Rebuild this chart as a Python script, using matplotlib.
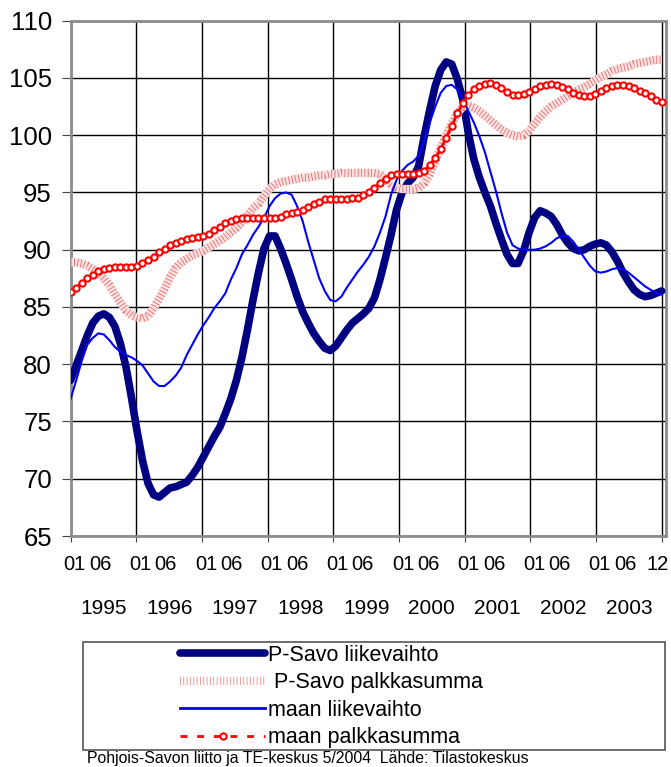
import numpy as np
import matplotlib.pyplot as plt
from matplotlib.lines import Line2D
from matplotlib.patches import Rectangle

plt.rcParams['font.family'] = ['Liberation Sans', 'DejaVu Sans']

# kuukausisarjat 01/1995 - 12/2003
years = ['1995', '1996', '1997', '1998', '1999', '2000', '2001', '2002', '2003']

psavo_liikevaihto = [
    78.6, 79.9, 81.2, 82.5, 83.6, 84.2, 84.4, 84.1, 83.3, 81.8,
    79.8, 77.1, 74.2, 71.6, 69.6, 68.6, 68.4, 68.8, 69.2, 69.3,
    69.5, 69.7, 70.3, 71.0, 71.9, 72.8, 73.7, 74.5, 75.7, 77.0,
    78.6, 80.6, 83.0, 85.6, 88.0, 90.1, 91.2, 91.2, 90.1, 88.8,
    87.4, 85.9, 84.6, 83.6, 82.7, 82.0, 81.4, 81.2, 81.6, 82.3,
    83.0, 83.6, 84.0, 84.4, 84.9, 85.8, 87.4, 89.3, 91.3, 93.5,
    95.0, 95.8, 96.3, 97.3, 99.9, 102.2, 104.3, 105.7, 106.4, 106.2,
    104.9, 103.1, 100.2, 97.9, 96.3, 95.0, 93.8, 92.3, 90.9, 89.6,
    88.8, 88.8, 89.9, 91.5, 92.8, 93.4, 93.2, 92.9, 92.2, 91.3,
    90.6, 90.1, 89.9, 90.0, 90.3, 90.5, 90.6, 90.4, 89.8, 89.0,
    88.0, 87.2, 86.5, 86.1, 85.9, 86.0, 86.2, 86.4]

psavo_palkkasumma = [
    88.9, 88.9, 88.8, 88.6, 88.3, 88.0, 87.5, 86.9, 86.1, 85.4,
    84.7, 84.3, 84.1, 84.0, 84.2, 84.9, 85.7, 86.6, 87.6, 88.4,
    88.9, 89.2, 89.5, 89.7, 89.9, 90.2, 90.5, 90.8, 91.1, 91.5,
    91.9, 92.4, 93.0, 93.6, 94.0, 94.7, 95.3, 95.7, 95.9, 96.0,
    96.1, 96.2, 96.3, 96.3, 96.4, 96.5, 96.5, 96.6, 96.6, 96.7,
    96.7, 96.7, 96.7, 96.7, 96.7, 96.7, 96.6, 96.2, 95.7, 95.4,
    95.3, 95.3, 95.3, 95.4, 95.8, 96.6, 97.7, 98.9, 100.0, 101.0,
    101.9, 102.5, 102.6, 102.4, 102.1, 101.7, 101.3, 100.9, 100.5, 100.2,
    100.0, 99.9, 100.0, 100.4, 101.0, 101.6, 102.1, 102.5, 102.8, 103.1,
    103.4, 103.7, 104.0, 104.2, 104.5, 104.8, 105.1, 105.3, 105.6, 105.8,
    105.9, 106.0, 106.2, 106.3, 106.4, 106.5, 106.6, 106.6]

maan_liikevaihto = [
    77.0, 78.6, 80.3, 81.7, 82.3, 82.7, 82.6, 82.1, 81.5, 81.1,
    80.8, 80.6, 80.3, 79.9, 79.2, 78.5, 78.1, 78.1, 78.5, 79.0,
    79.7, 80.8, 81.7, 82.6, 83.4, 84.1, 84.9, 85.5, 86.2, 87.4,
    88.4, 89.6, 90.4, 91.3, 92.0, 92.8, 93.8, 94.5, 94.9, 95.0,
    94.8, 93.8, 92.5, 90.7, 89.1, 87.5, 86.4, 85.6, 85.5, 85.9,
    86.7, 87.4, 88.1, 88.7, 89.4, 90.3, 91.5, 92.9, 94.8, 96.1,
    96.9, 97.4, 97.7, 98.2, 99.5, 101.1, 102.5, 103.7, 104.3, 104.4,
    104.0, 103.1, 102.1, 101.1, 99.9, 98.5, 96.8, 95.1, 93.2, 91.5,
    90.4, 90.1, 90.0, 90.0, 90.0, 90.1, 90.3, 90.6, 91.0, 91.2,
    91.2, 90.7, 90.0, 89.3, 88.6, 88.1, 88.0, 88.1, 88.3, 88.4,
    88.3, 88.0, 87.6, 87.2, 86.8, 86.5, 86.2, 86.1]

maan_palkkasumma = [
    86.3, 86.7, 87.1, 87.5, 87.8, 88.1, 88.3, 88.4, 88.5, 88.5,
    88.5, 88.5, 88.6, 88.8, 89.1, 89.4, 89.8, 90.1, 90.4, 90.6,
    90.8, 90.9, 91.0, 91.1, 91.2, 91.4, 91.7, 92.0, 92.3, 92.5,
    92.7, 92.8, 92.8, 92.8, 92.8, 92.8, 92.8, 92.8, 92.9, 93.1,
    93.2, 93.3, 93.5, 93.7, 94.0, 94.2, 94.4, 94.4, 94.4, 94.4,
    94.4, 94.5, 94.5, 94.8, 95.0, 95.4, 95.8, 96.2, 96.5, 96.6,
    96.6, 96.6, 96.6, 96.7, 96.9, 97.4, 98.0, 98.8, 99.8, 100.8,
    101.9, 102.8, 103.5, 104.0, 104.3, 104.5, 104.6, 104.4, 104.1, 103.8,
    103.5, 103.5, 103.6, 103.8, 104.0, 104.3, 104.4, 104.5, 104.4, 104.2,
    104.0, 103.7, 103.5, 103.4, 103.4, 103.6, 103.9, 104.1, 104.3, 104.4,
    104.4, 104.3, 104.1, 103.9, 103.7, 103.4, 103.1, 102.9]

labels = ['P-Savo liikevaihto', ' P-Savo palkkasumma', 'maan liikevaihto', 'maan palkkasumma']

x = np.arange(len(psavo_liikevaihto))
n = len(x)

fig = plt.figure(figsize=(6.71, 7.67), dpi=100)
ax = fig.add_axes([70.7 / 671, 1 - 536 / 767, (666 - 70.7) / 671, (536 - 20.7) / 767])

# sarjat
ax.plot(x, psavo_liikevaihto, color='#000080', lw=5.5, solid_capstyle='round', zorder=3)
ax.plot(x, psavo_palkkasumma, color='#fbe2e2', lw=6, solid_capstyle='butt', zorder=4)
ax.plot(x, psavo_palkkasumma, color='#e86a6a', lw=6, dashes=(0.1, 0.3), zorder=4)
ax.plot(x, maan_liikevaihto, color='#0000ff', lw=1.5, zorder=5)
ax.plot(x, maan_palkkasumma, color='#ff0000', lw=2, marker='o', ms=4.5,
        mfc='white', mec='#ff0000', mew=1.5, zorder=6)

ax.set_ylim(65, 110)
ax.set_xlim(0, (666 - 70.7) / 5.523)
ax.set_yticks(np.arange(65, 111, 5))
ax.tick_params(axis='y', labelsize=18.5, length=6.5, pad=7, direction='out', color='#444444')

gx = np.linspace(0, n - 1, len(years) + 1)
ax.set_xticks(gx)
ax.set_xticklabels([])
ax.tick_params(axis='x', length=4, direction='out', color='#444444')
ax.grid(True, color='black', lw=1)
ax.set_axisbelow(True)
for s in ax.spines.values():
    s.set_color('#8c8c8c')
    s.set_linewidth(2)

# x-akselin kuukausi- ja vuositekstit
tr = ax.get_xaxis_transform()
for k, yr in enumerate(years):
    ax.text(gx[k] + 0.7, -0.056, '01', transform=tr, ha='center', va='center', fontsize=14.5)
    ax.text(gx[k] + 5.3, -0.056, '06', transform=tr, ha='center', va='center', fontsize=14.5)
    ax.text((gx[k] + gx[k + 1]) / 2, -0.14, yr, transform=tr, ha='center', va='center', fontsize=15)
ax.text(gx[-1] - 0.7, -0.056, '12', transform=tr, ha='center', va='center', fontsize=14.5)

# selite
fig.patches.append(Rectangle((83 / 671, 1 - 750 / 767), (665 - 83) / 671, 108 / 767,
                             transform=fig.transFigure, fill=False, ec='#555555', lw=1.2))
handles = [
    Line2D([], [], color='#000080', lw=5.5, solid_capstyle='round'),
    Line2D([], [], color='#f09090', lw=6, dashes=(0.1, 0.3)),
    Line2D([], [], color='#0000ff', lw=2),
    Line2D([], [], color='#ff0000', lw=2, dashes=(2.5, 3.5), marker='o', ms=4.5,
           mfc='white', mec='#ff0000', mew=1.5),
]
fig.legend(handles, labels, loc='upper left', bbox_to_anchor=(180 / 671, 1 - 645 / 767),
           frameon=False, fontsize=15.5, handlelength=3.95, handletextpad=0.15,
           labelspacing=0.3, borderpad=0, borderaxespad=0, numpoints=1)

fig.text(87 / 671, 1 - 758 / 767, 'Pohjois-Savon liitto ja TE-keskus 5/2004  Lähde: Tilastokeskus',
         fontsize=11.4, va='center', ha='left')

fig.savefig('out.png', dpi=100)
